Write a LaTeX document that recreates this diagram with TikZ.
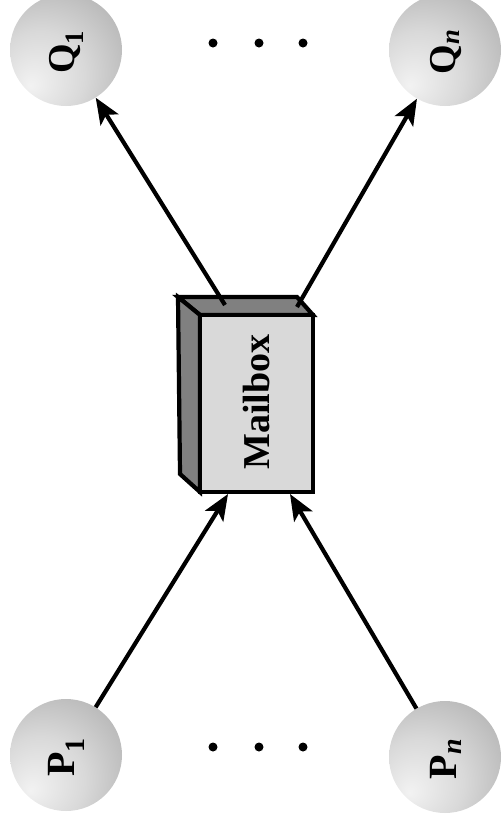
\documentclass[tikz,border=0pt]{standalone}
\usepackage{fontspec}
\setmainfont{Liberation Serif}
\usetikzlibrary{arrows.meta}
\pgfdeclareradialshading{sphereshade}{\pgfpoint{-16bp}{-16bp}}{%
  color(0bp)=(black!5);
  color(20bp)=(black!15);
  color(45bp)=(black!33);
  color(72bp)=(black!50)}
\tikzset{
  proc/.style={circle, minimum size=112pt, inner sep=0pt, shading=sphereshade},
  lbl/.style={rotate=90, font=\fontsize{38}{38}\selectfont\bfseries, inner sep=0pt},
  conn/.style={line width=4.2pt, -{Stealth[length=26pt,width=21pt,inset=6pt]}},
  dotmark/.style={circle, fill=black, minimum size=9pt, inner sep=0pt},
  boxline/.style={line width=4.2pt, line join=miter},
  front/.style={fill=black!15},
  sideface/.style={fill=black!50},
}
\begin{document}
\begin{tikzpicture}[x=1pt,y=-1pt]
\useasboundingbox (0,0) rectangle (503,825);
% mailbox
\coordinate (btl) at (178,297);
\coordinate (btr) at (297,297);
\coordinate (bbl) at (180,474);
\coordinate (ftl) at (200,315);
\coordinate (ftr) at (313,315);
\coordinate (fbl) at (200,492);
\coordinate (fbr) at (313,492);
\draw[boxline, sideface] (btl) -- (btr) -- (ftr) -- (ftl) -- cycle;
\draw[boxline, sideface] (btl) -- (ftl) -- (fbl) -- (bbl) -- cycle;
\draw[boxline, front] (ftl) rectangle (fbr);
\node[rotate=90, font=\fontsize{38}{38}\selectfont\bfseries] (mailbox) at (256,402) {Mailbox};
\coordinate (mb1) at (228,494);
\coordinate (mb2) at (290,494);
\coordinate (mt1) at (225,305);
\coordinate (mt2) at (297,307);
% processes
\node[proc] (q1) at (66,50) {};
\node[proc] (qn) at (445,50) {};
\node[proc] (p1) at (66,755) {};
\node[proc] (pn) at (445,757) {};
\node[lbl] (q1l) at (66,52) {Q\textsubscript{1}};
\node[lbl] (qnl) at (446,52) {Q\textsubscript{\textit{n}}};
\node[lbl, font=\fontsize{40}{40}\selectfont\bfseries] (p1l) at (66,757) {P\textsubscript{1}};
\node[lbl, font=\fontsize{40}{40}\selectfont\bfseries] (pnl) at (446,759) {P\textsubscript{\textit{n}}};
% dots
\node[dotmark] (d1) at (213,43) {};
\node[dotmark] (d2) at (259,43) {};
\node[dotmark] (d3) at (303,43) {};
\node[dotmark] (d4) at (213,747) {};
\node[dotmark] (d5) at (259,747) {};
\node[dotmark] (d6) at (303,747) {};
% connectors
\draw[conn] (p1) -- (mb1);
\draw[conn] (pn) -- (mb2);
\draw[conn] (mt1) -- (q1);
\draw[conn] (mt2) -- (qn);
\end{tikzpicture}
\end{document}
